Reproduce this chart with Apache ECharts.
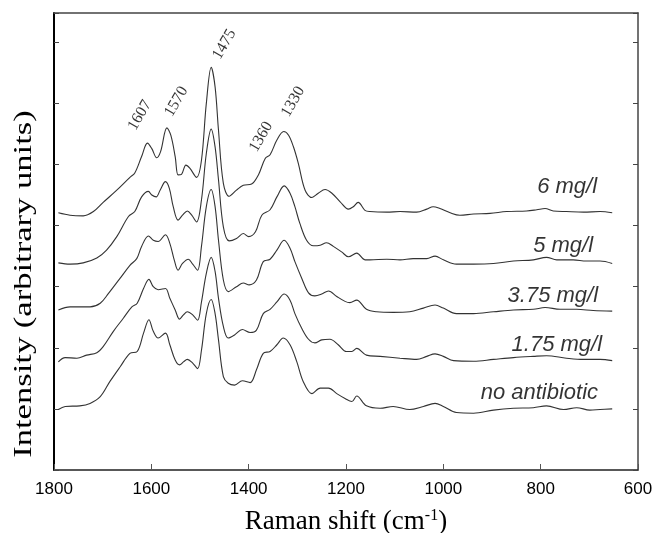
<!DOCTYPE html>
<html>
<head>
<meta charset="utf-8">
<script src="https://cdn.jsdelivr.net/npm/echarts@6/dist/echarts.min.js"></script>
<style>html,body{margin:0;padding:0;background:#fff}#c{width:655px;height:533px}</style>
</head>
<body>
<div id="c"></div>
<script>
// ---- data (Raman shift cm-1, intensity in arbitrary units incl. vertical offset) ----
const seriesNames = ['6 mg/l', '5 mg/l', '3.75 mg/l', '1.75 mg/l', 'no antibiotic'];

const mg6 = [[1791,4.21],[1767,4.17],[1740,4.16],[1719,4.23],[1699,4.38],[1671,4.58],[1644,4.79],[1634,4.86],[1620,5.13],[1608,5.35],[1599,5.26],[1589,5.11],[1581,5.21],[1568,5.60],[1560,5.48],[1551,5.13],[1545,4.83],[1538,4.84],[1529,4.99],[1521,4.94],[1507,4.79],[1497,5.07],[1487,6.00],[1477,6.59],[1469,6.27],[1462,5.56],[1452,4.69],[1440,4.48],[1425,4.58],[1411,4.66],[1394,4.68],[1380,4.83],[1366,5.10],[1356,5.16],[1342,5.40],[1328,5.54],[1318,5.48],[1308,5.29],[1298,5.02],[1284,4.58],[1270,4.46],[1257,4.53],[1243,4.59],[1229,4.53],[1212,4.39],[1195,4.27],[1185,4.31],[1175,4.38],[1161,4.25],[1151,4.23],[1116,4.22],[1089,4.23],[1055,4.22],[1034,4.27],[1021,4.31],[1007,4.28],[986,4.21],[966,4.17],[938,4.19],[904,4.20],[870,4.23],[829,4.24],[808,4.26],[791,4.28],[774,4.24],[747,4.23],[712,4.22],[678,4.23],[653,4.21]];

const mg5 = [[1791,3.39],[1767,3.37],[1740,3.39],[1712,3.47],[1692,3.60],[1671,3.82],[1647,4.15],[1634,4.23],[1620,4.47],[1606,4.56],[1599,4.50],[1590,4.47],[1582,4.58],[1571,4.72],[1563,4.61],[1555,4.31],[1545,4.09],[1536,4.17],[1526,4.24],[1517,4.17],[1507,4.06],[1497,4.42],[1487,5.18],[1477,5.58],[1469,5.29],[1462,4.75],[1452,3.98],[1440,3.75],[1425,3.79],[1411,3.87],[1400,3.82],[1386,3.90],[1373,4.17],[1356,4.26],[1342,4.47],[1327,4.65],[1315,4.53],[1305,4.31],[1295,4.04],[1281,3.76],[1267,3.67],[1253,3.68],[1240,3.72],[1226,3.66],[1209,3.57],[1195,3.49],[1178,3.55],[1161,3.44],[1151,3.44],[1116,3.45],[1089,3.44],[1062,3.46],[1034,3.46],[1017,3.50],[1000,3.44],[973,3.37],[938,3.37],[897,3.38],[856,3.42],[815,3.44],[788,3.48],[767,3.44],[733,3.44],[706,3.42],[678,3.42],[653,3.38]];

const mg375 = [[1791,2.62],[1767,2.67],[1726,2.67],[1705,2.73],[1688,2.89],[1664,3.14],[1644,3.35],[1630,3.46],[1620,3.66],[1606,3.83],[1596,3.76],[1586,3.74],[1571,3.85],[1562,3.71],[1553,3.44],[1545,3.27],[1536,3.38],[1524,3.45],[1515,3.37],[1505,3.27],[1497,3.66],[1487,4.31],[1477,4.59],[1469,4.31],[1462,3.76],[1452,3.11],[1442,2.92],[1425,3.00],[1411,3.06],[1399,3.03],[1384,3.11],[1370,3.41],[1356,3.45],[1342,3.60],[1327,3.76],[1315,3.63],[1305,3.41],[1291,3.14],[1277,2.90],[1264,2.85],[1250,2.88],[1236,2.93],[1219,2.84],[1202,2.76],[1192,2.74],[1178,2.78],[1158,2.63],[1137,2.59],[1103,2.58],[1069,2.59],[1041,2.65],[1017,2.70],[1000,2.65],[973,2.56],[938,2.56],[897,2.59],[856,2.62],[815,2.63],[791,2.66],[760,2.63],[726,2.63],[692,2.61],[653,2.60]];

const mg175 = [[1791,1.77],[1777,1.84],[1753,1.83],[1733,1.88],[1712,1.92],[1699,2.02],[1678,2.27],[1658,2.48],[1640,2.67],[1629,2.73],[1616,2.97],[1605,3.12],[1596,3.00],[1586,2.95],[1571,2.97],[1562,2.81],[1551,2.62],[1542,2.47],[1534,2.54],[1526,2.59],[1515,2.54],[1505,2.45],[1497,2.75],[1487,3.22],[1477,3.48],[1469,3.25],[1462,2.81],[1452,2.35],[1442,2.16],[1429,2.21],[1413,2.30],[1397,2.25],[1384,2.29],[1370,2.56],[1356,2.63],[1342,2.75],[1327,2.88],[1315,2.78],[1305,2.56],[1291,2.32],[1277,2.14],[1264,2.08],[1250,2.13],[1233,2.14],[1216,2.05],[1199,1.94],[1188,1.94],[1178,1.99],[1158,1.88],[1130,1.86],[1089,1.83],[1055,1.81],[1034,1.86],[1017,1.90],[1000,1.86],[979,1.79],[938,1.78],[897,1.81],[856,1.84],[815,1.86],[788,1.87],[747,1.83],[712,1.81],[678,1.81],[653,1.79]];

const noAntibiotic = [[1791,0.99],[1777,1.04],[1747,1.05],[1726,1.09],[1705,1.20],[1685,1.45],[1664,1.69],[1644,1.91],[1629,1.94],[1616,2.24],[1605,2.46],[1596,2.27],[1586,2.16],[1571,2.24],[1562,2.05],[1551,1.80],[1542,1.72],[1534,1.77],[1526,1.81],[1515,1.75],[1505,1.66],[1497,1.96],[1487,2.56],[1477,2.79],[1469,2.56],[1462,2.13],[1452,1.53],[1442,1.42],[1429,1.39],[1413,1.46],[1397,1.43],[1384,1.64],[1370,1.91],[1356,1.94],[1342,2.05],[1329,2.16],[1315,2.05],[1301,1.77],[1288,1.45],[1270,1.25],[1253,1.34],[1236,1.34],[1219,1.25],[1202,1.17],[1188,1.12],[1178,1.21],[1158,1.05],[1130,1.01],[1103,1.04],[1069,0.99],[1041,1.04],[1017,1.09],[1000,1.04],[973,0.94],[938,0.93],[897,0.98],[856,1.01],[815,1.02],[788,1.05],[753,0.99],[726,1.02],[699,0.98],[678,0.99],[653,1.00]];

// peak annotations (band positions and top-trace heights)
const peakLabels = ['1607', '1570', '1475', '1360', '1330'];
const peakShift  = [1607, 1570, 1475, 1360, 1330];
const peakTop    = [5.35, 5.60, 6.59, 5.16, 5.54];

// x-axis ticks
const xTicks = [1800, 1600, 1400, 1200, 1000, 800, 600];

// ---- chart ----
const spectra = [mg6, mg5, mg375, mg175, noAntibiotic];
// label offsets are applied in the rotated (60 deg) label frame
const peakOffsets = [[20,-21],[28,-4],[26,-1],[12,-15],[31,-6]];
const nameOffsets = [[-1,-26],[-5,-18],[0,-15],[4,-16],[0,-16]];
const nameAnchorX = 682;

const chart = echarts.init(document.getElementById('c'), null, {renderer: 'canvas'});

const lineSeries = spectra.map((d, i) => ({
  name: seriesNames[i],
  type: 'line',
  data: d,
  showSymbol: false,
  symbol: 'none',
  smooth: 0.35,
  lineStyle: {color: '#333', width: 1.1},
  silent: true,
  z: 3
}));

const nameSeries = {
  type: 'scatter',
  symbolSize: 0,
  silent: true,
  data: spectra.map((d, i) => ({
    value: [nameAnchorX, d[d.length - 1][1]],
    label: {
      show: true,
      formatter: seriesNames[i],
      position: 'inside',
      align: 'right',
      verticalAlign: 'middle',
      offset: nameOffsets[i],
      fontFamily: '"Liberation Sans", Arial, sans-serif',
      fontStyle: 'italic',
      fontSize: 22,
      color: '#000'
    }
  })),
  z: 5
};

const peakSeries = {
  type: 'scatter',
  symbolSize: 0,
  silent: true,
  data: peakShift.map((s, i) => ({
    value: [s, peakTop[i]],
    label: {
      show: true,
      formatter: peakLabels[i],
      position: 'inside',
      rotate: 60,
      align: 'center',
      verticalAlign: 'middle',
      offset: peakOffsets[i],
      fontFamily: '"Liberation Serif", "Times New Roman", serif',
      fontSize: 16,
      color: '#000'
    }
  })),
  z: 5
};

const option = {
  backgroundColor: '#fff',
  animation: false,
  grid: {left: 54, right: 17, top: 13, bottom: 63, containLabel: false, outerBoundsMode: 'none'},
  xAxis: [{
    type: 'value',
    min: 600, max: 1800, interval: 200,
    inverse: true,
    position: 'bottom',
    axisLine: {show: true, onZero: false, lineStyle: {color: '#222', width: 1.5}},
    axisTick: {show: true, inside: true, length: 6, lineStyle: {color: '#555'}},
    axisLabel: {
      show: true, margin: 11,
      fontFamily: '"Liberation Sans", Arial, sans-serif', fontSize: 17, color: '#000',
      formatter: v => (xTicks.indexOf(v) >= 0 ? String(v) : '')
    },
    splitLine: {show: false},
    name: 'Raman shift (cm{sup|-1})',
    nameLocation: 'middle',
    nameGap: 38,
    nameTextStyle: {
      fontFamily: '"Liberation Serif", "Times New Roman", serif', fontSize: 27, color: '#000',
      rich: {sup: {fontFamily: '"Liberation Serif", "Times New Roman", serif', fontSize: 16, verticalAlign: 'top', color: '#000'}}
    }
  }, {
    type: 'value',
    min: 600, max: 1800, inverse: true,
    position: 'top',
    axisLine: {show: true, onZero: false, lineStyle: {color: '#444', width: 1.5}},
    axisTick: {show: false}, axisLabel: {show: false}, splitLine: {show: false}
  }],
  yAxis: [{
    type: 'value',
    min: 0, max: 7.48, interval: 1,
    position: 'left',
    axisLine: {show: true, onZero: false, lineStyle: {color: '#000', width: 2}},
    axisTick: {show: true, inside: true, length: 5, lineStyle: {color: '#444'}},
    axisLabel: {show: false},
    splitLine: {show: false}
  }, {
    type: 'value',
    min: 0, max: 7.48, interval: 1,
    position: 'right',
    axisLine: {show: true, onZero: false, lineStyle: {color: '#444', width: 1.5}},
    axisTick: {show: true, inside: true, length: 5, lineStyle: {color: '#444'}},
    axisLabel: {show: false},
    splitLine: {show: false}
  }],
  graphic: [{
    type: 'text',
    x: 24, y: 284,
    rotation: Math.PI / 2,
    scaleX: 1.33,
    style: {
      text: 'Intensity (arbitrary units)',
      font: '26px "Liberation Serif", "Times New Roman", serif',
      fill: '#000',
      align: 'center',
      verticalAlign: 'middle'
    }
  }],
  series: lineSeries.concat([nameSeries, peakSeries])
};

chart.setOption(option);
</script>
</body>
</html>
